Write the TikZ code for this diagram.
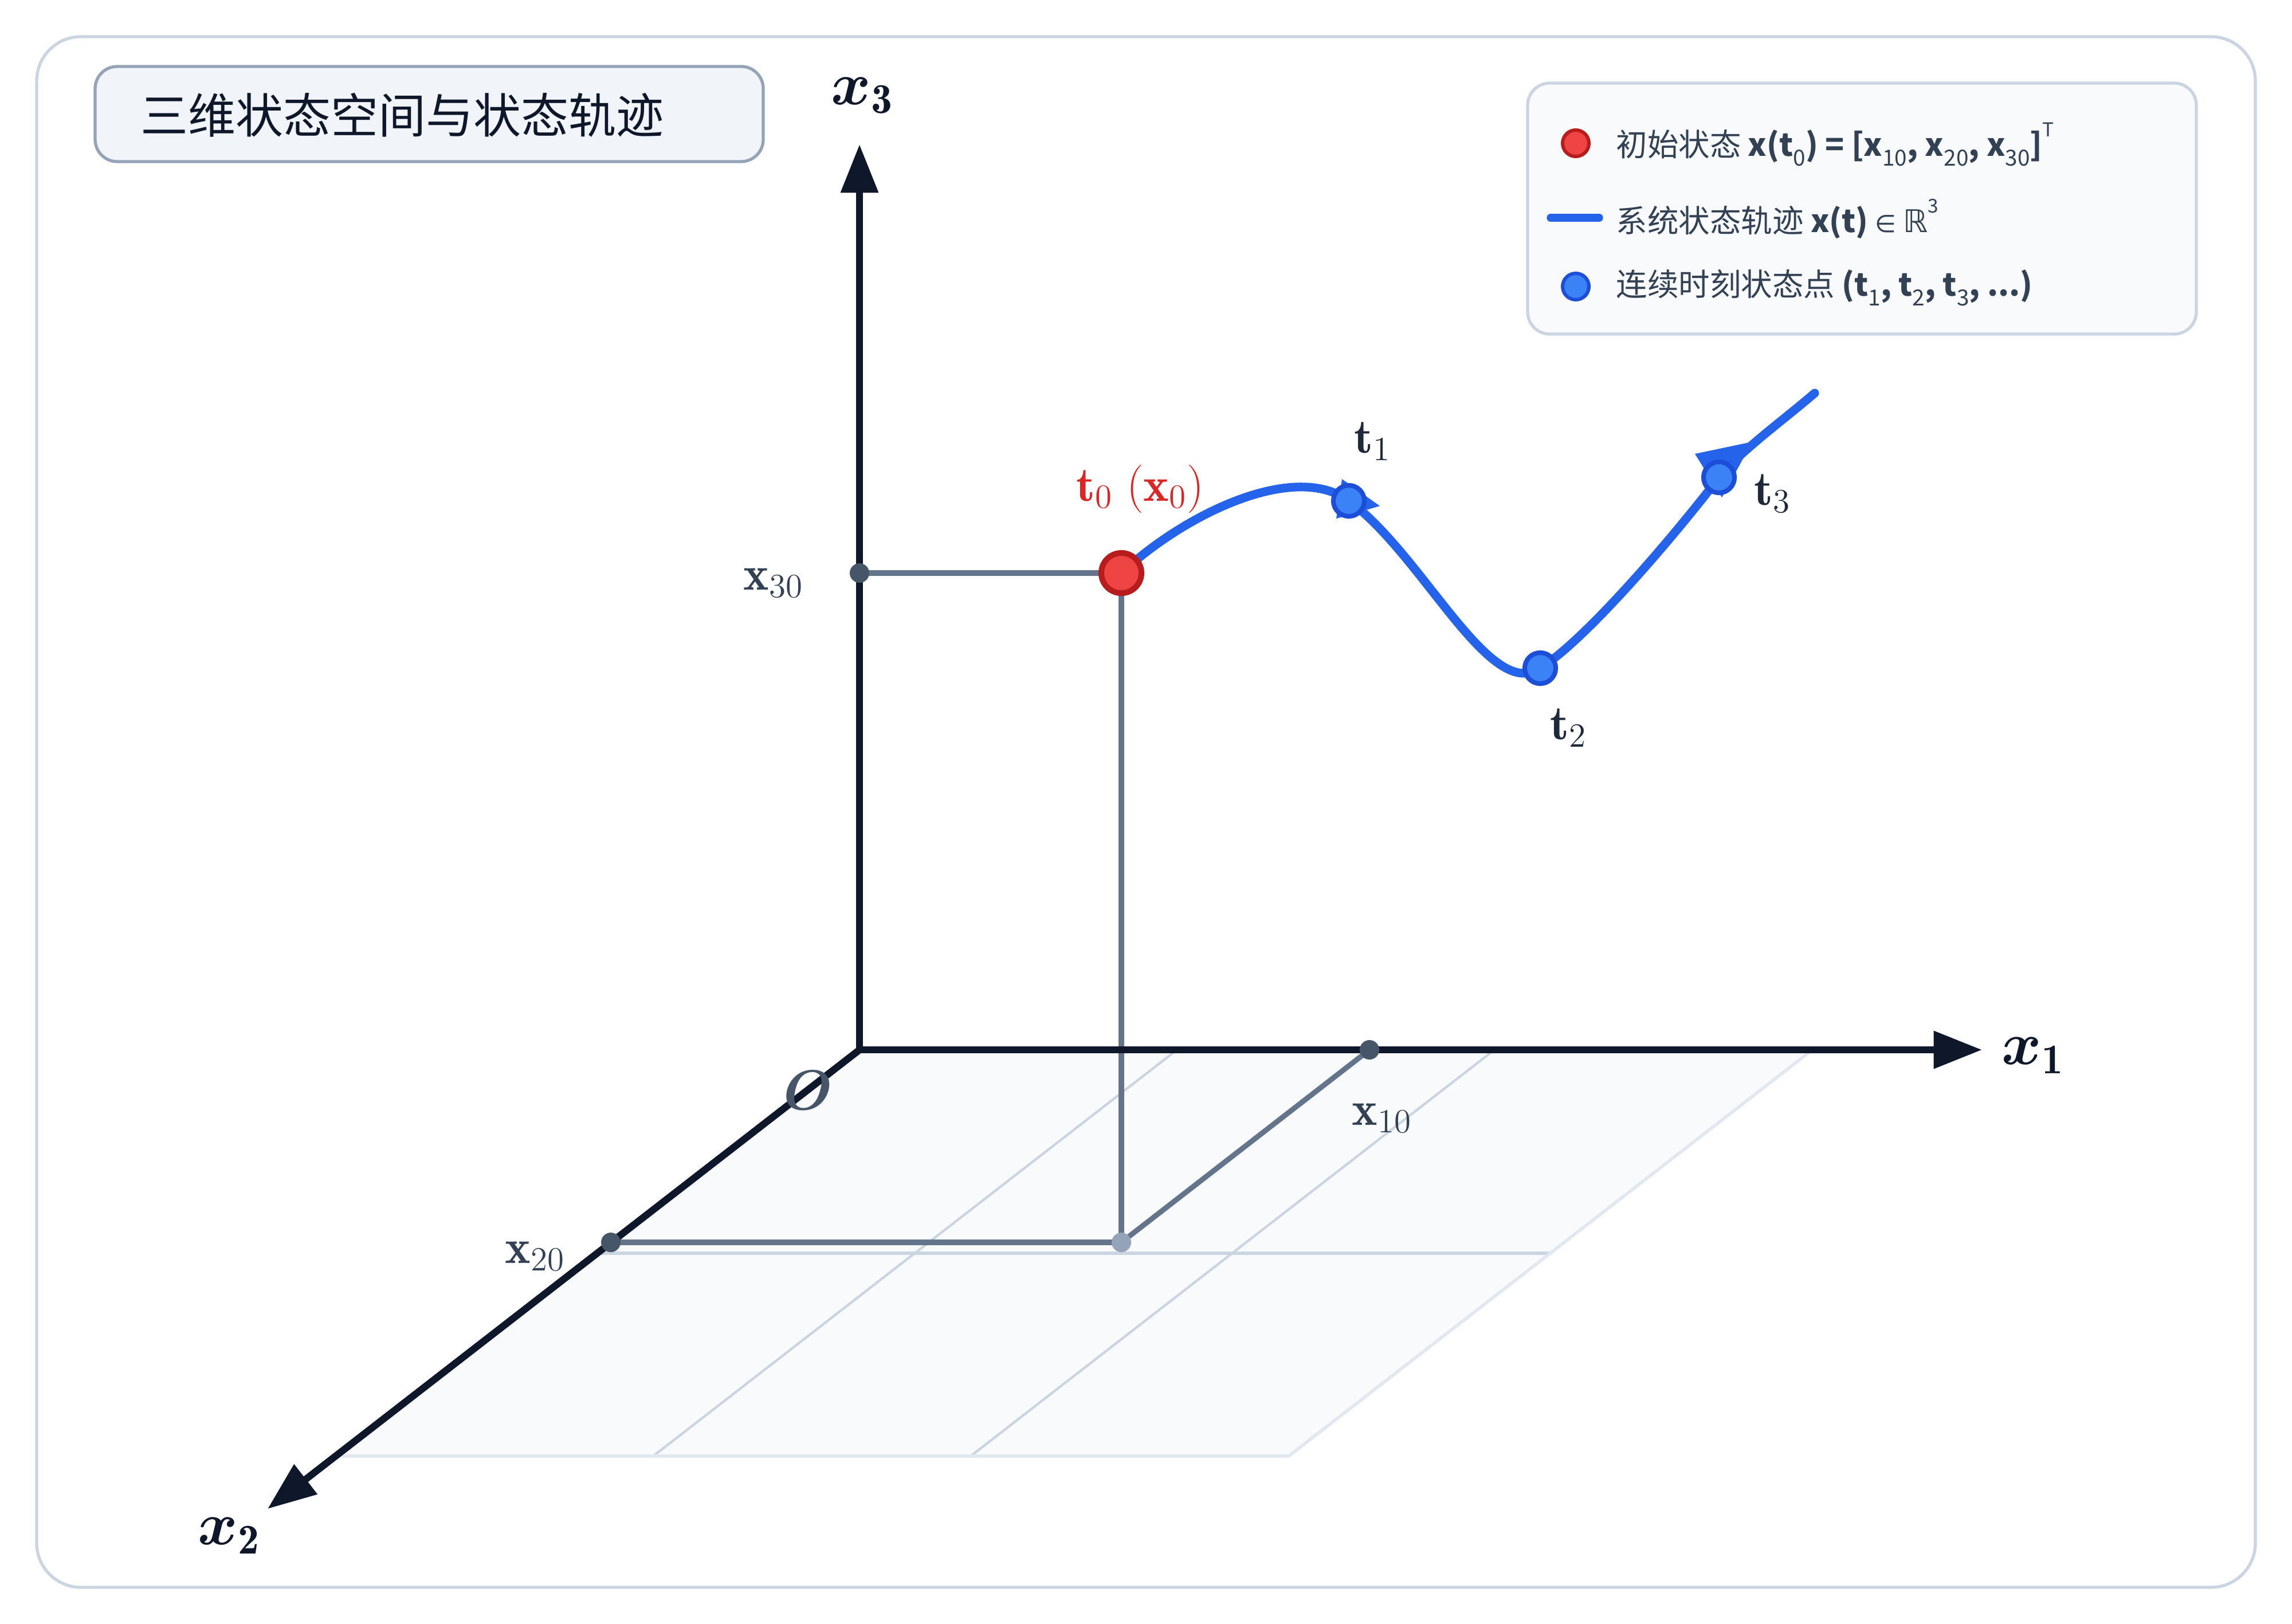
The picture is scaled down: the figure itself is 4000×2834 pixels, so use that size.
\RequirePackage{fix-cm}
\documentclass[tikz,border=0pt]{standalone}
\usepackage{amsmath}
\usepackage{bm}
\usepackage{fontspec}
\newfontfamily\cjk{Noto Sans CJK SC}
\newfontfamily\djv{DejaVu Sans}
\usetikzlibrary{arrows.meta}
\definecolor{axisc}{HTML}{0F172A}
\definecolor{framec}{HTML}{CBD5E1}
\definecolor{titlefill}{HTML}{F1F5F9}
\definecolor{titledraw}{HTML}{94A3B8}
\definecolor{legfill}{HTML}{F8FAFC}
\definecolor{planefill}{HTML}{F8FAFC}
\definecolor{gridc}{HTML}{CBD5E1}
\definecolor{edgec}{HTML}{E2E8F0}
\definecolor{projc}{HTML}{64748B}
\definecolor{dotc}{HTML}{475569}
\definecolor{projdot}{HTML}{94A3B8}
\definecolor{curvec}{HTML}{2563EB}
\definecolor{bluefill}{HTML}{3B82F6}
\definecolor{bluedraw}{HTML}{1D4ED8}
\definecolor{redfill}{HTML}{EF4444}
\definecolor{reddraw}{HTML}{B91C1C}
\definecolor{redtext}{HTML}{DC2626}
\definecolor{labc}{HTML}{334155}
\definecolor{tlab}{HTML}{1E293B}
\newcommand\lsub[1]{\raisebox{-0.32em}{\mdseries\fontsize{11}{11}\selectfont #1}}
\newcommand\lsup[1]{\raisebox{0.62em}{\mdseries\fontsize{9.5}{9.5}\selectfont #1}}
\begin{document}
\begin{tikzpicture}[x=0.01cm,y=-0.01cm,
  axisline/.style={line width=3.5pt, draw=axisc, -{Triangle[length=24pt,width=18pt]}},
  projline/.style={line width=2.6pt, draw=projc},
  gridline/.style={line width=1.2pt, draw=gridc},
  edgeline/.style={line width=1.6pt, draw=edgec},
  smalldot/.style={circle, fill=dotc, inner sep=0pt, minimum size=0.34cm},
  bluept/.style={circle, fill=bluefill, draw=bluedraw, line width=2.3pt, inner sep=0pt, minimum size=0.54cm},
  redpt/.style={circle, fill=redfill, draw=reddraw, line width=2.85pt, inner sep=0pt, minimum size=0.70cm},
  curve/.style={line width=4.3pt, draw=curvec, line cap=round},
  axlab/.style={text=axisc, font=\fontsize{30}{30}\selectfont, inner sep=0pt},
  vallab/.style={text=labc, font=\fontsize{24}{24}\selectfont, inner sep=0pt},
  tlabel/.style={text=tlab, font=\fontsize{24}{24}\selectfont, inner sep=0pt},
  legtext/.style={text=labc, font=\cjk\fontsize{15.5}{15.5}\selectfont, anchor=west, inner sep=0pt}
]
\useasboundingbox (0,0) rectangle (4000,2834);
% outer frame
\draw[line width=1.5pt, draw=framec, fill=white, rounded corners=22pt] (64,64) rectangle (3936,2770);
% title
\draw[rounded corners=11pt, fill=titlefill, draw=titledraw, line width=1.5pt] (166,116) rectangle (1332,282);
\node[anchor=west, inner sep=0pt, text=axisc, font=\cjk\fontsize{23.6}{23.6}\selectfont] (title) at (245,201) {三维状态空间与状态轨迹};
% legend
\draw[rounded corners=11pt, fill=legfill, draw=framec, line width=1.5pt] (2666,145) rectangle (3833,583);
\node[circle, fill=redfill, draw=reddraw, line width=1.7pt, minimum size=0.46cm, inner sep=0pt] (legR) at (2750,250) {};
\node[legtext] (legT1) at (2820,252) {初始状态 \textbf{x(t}\lsub{0}\textbf{) = [x}\lsub{10}\textbf{, x}\lsub{20}\textbf{, x}\lsub{30}\textbf{]}\lsup{T}};
\coordinate (legLa) at (2706,380);
\coordinate (legLb) at (2791,380);
\draw[line width=3.8pt, draw=curvec, line cap=round] (legLa) -- (legLb);
\node[legtext] (legT2) at (2820,382) {系统状态轨迹 \textbf{x(t)} {\djv\fontsize{12}{12}\selectfont ∈} {\djv ℝ}\lsup{3}};
\node[circle, fill=bluefill, draw=bluedraw, line width=1.7pt, minimum size=0.46cm, inner sep=0pt] (legB) at (2750,500) {};
\node[legtext] (legT3) at (2820,502) {连续时刻状态点 \textbf{(t}\lsub{1}\textbf{, t}\lsub{2}\textbf{, t}\lsub{3}\textbf{, ...)}};
% key coordinates
\coordinate (O) at (1500,1832);
\coordinate (X1tip) at (3459,1832);
\coordinate (X3tip) at (1500,252);
\coordinate (X2tip) at (467,2633);
\coordinate (Q10) at (2390,1832);
\coordinate (Q20) at (1066,2168);
\coordinate (Q30) at (1500,1000);
\coordinate (P) at (1957,2168);
\coordinate (R) at (1957,1000);
\coordinate (T1) at (2354,874);
\coordinate (T2) at (2688,1166);
\coordinate (T3) at (3000,833);
\coordinate (E) at (3167,686);
% plane
\fill[planefill] (O) -- (3163,1832) -- (2249,2541) -- (586,2541) -- cycle;
\draw[gridline] (2054,1832) -- (1140,2541);
\draw[gridline] (2608,1832) -- (1694,2541);
\draw[gridline, line width=1.6pt] (1043,2187) -- (2706,2187);
\draw[edgeline] (3163,1832) -- (2249,2541) -- (586,2541);
% projection lines
\draw[projline] (Q30) -- (R);
\draw[projline] (R) -- (P);
\draw[projline] (Q20) -- (P);
\draw[projline] (P) -- (Q10);
% axes
\draw[axisline] (O) -- (X1tip);
\draw[axisline] (O) -- (X3tip);
\draw[axisline] (O) -- (X2tip);
% dots
\node[smalldot] (d30) at (Q30) {};
\node[smalldot] (d10) at (Q10) {};
\node[smalldot] (d20) at (Q20) {};
\node[smalldot, fill=projdot] (dP) at (P) {};
% trajectory
\draw[curve] (R) .. controls (2070,895) and (2260,805) .. (T1)
  .. controls (2484,969) and (2600,1226) .. (T2)
  .. controls (2770,1115) and (2930,925) .. (T3)
  .. controls (3040,785) and (3110,735) .. (E);
\fill[curvec] (2342,836) -- (2408,883) -- (2332,905) -- cycle;
\fill[curvec] (2958,792) -- (3058,771) -- (3005,868) -- cycle;
\node[redpt] (Rpt) at (R) {};
\node[bluept] (T1pt) at (T1) {};
\node[bluept] (T2pt) at (T2) {};
\node[bluept] (T3pt) at (T3) {};
% labels
\node[axlab] (lx1) at (3548,1842) {$\bm{x}_{\mathbf{1}}$};
\node[axlab] (lx2) at (400,2680) {$\bm{x}_{\mathbf{2}}$};
\node[axlab] (lx3) at (1505,167) {$\bm{x}_{\mathbf{3}}$};
\node[inner sep=0pt, text=dotc, font=\fontsize{28}{28}\selectfont] (lO) at (1410,1903) {$\bm{O}$};
\node[vallab] (l30) at (1350,1017) {$\mathbf{x}_{30}$};
\node[vallab] (l10) at (2412,1951) {$\mathbf{x}_{10}$};
\node[vallab] (l20) at (934,2192) {$\mathbf{x}_{20}$};
\node[tlabel, text=redtext] (lt0) at (1990,853) {$\mathbf{t}_{0}\;(\mathbf{x}_{0})$};
\node[tlabel] (lt1) at (2395,770) {$\mathbf{t}_{1}$};
\node[tlabel] (lt2) at (2737,1270) {$\mathbf{t}_{2}$};
\node[tlabel] (lt3) at (3093,861) {$\mathbf{t}_{3}$};
\end{tikzpicture}
\end{document}
